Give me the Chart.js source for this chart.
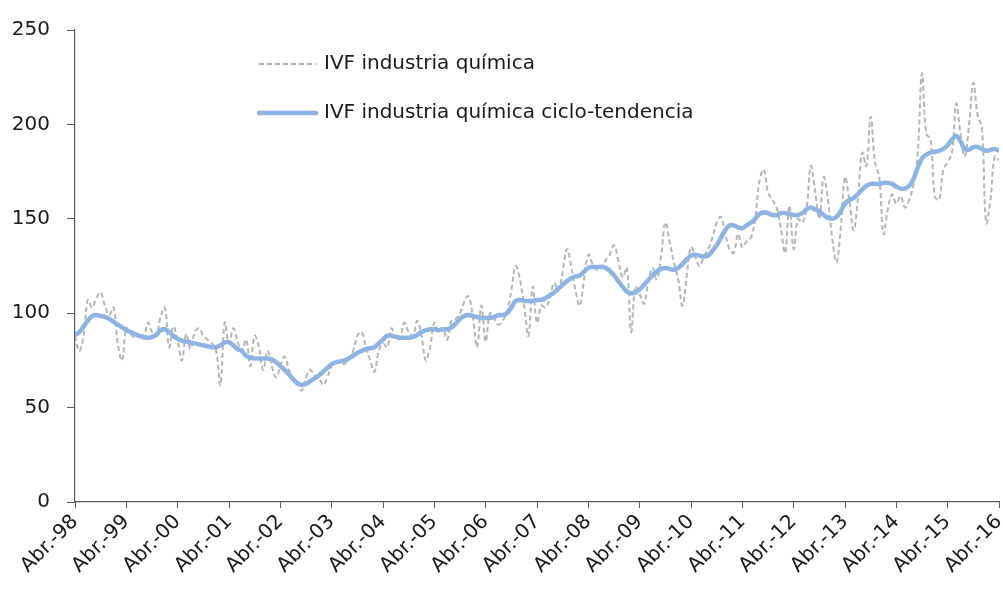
<!DOCTYPE html>
<html>
<head>
<meta charset="utf-8">
<script src="https://cdn.jsdelivr.net/npm/chart.js@4"></script>
<style>
  html, body { margin: 0; padding: 0; background: #fff; }
  #wrap { width: 1003px; height: 590px; position: relative; }
</style>
</head>
<body>
<div id="wrap"><canvas id="myChart"></canvas></div>
<script>
// tick labels, one per April (every 12 months)
const yearLabels = ["Abr.-98", "Abr.-99", "Abr.-00", "Abr.-01", "Abr.-02", "Abr.-03", "Abr.-04",
  "Abr.-05", "Abr.-06", "Abr.-07", "Abr.-08", "Abr.-09", "Abr.-10", "Abr.-11", "Abr.-12",
  "Abr.-13", "Abr.-14", "Abr.-15", "Abr.-16"];

const seriesNames = ["IVF industria química", "IVF industria química ciclo-tendencia"];

// monthly index, Apr-98 .. Apr-16 (one row per year, starting in April)
const ivf = [
  88, 80, 88, 107, 103, 108, 111, 104, 99, 103, 84, 75,
  92, 89, 87, 88, 86, 95, 90, 88, 98, 103, 82, 93,
  85, 75, 89, 81, 90, 92, 88, 86, 84, 80, 62, 95,
  84, 92, 85, 80, 86, 72, 88, 82, 70, 80, 72, 66,
  72, 77, 70, 64, 62, 59, 66, 70, 67, 66, 62, 66,
  72, 74, 74, 73, 76, 80, 88, 90, 82, 75, 69, 80,
  84, 82, 92, 86, 87, 95, 90, 88, 96, 88, 75, 82,
  95, 90, 92, 86, 96, 97, 100, 106, 109, 98, 82, 104,
  85, 100, 97, 94, 96, 101, 112, 125, 118, 104, 88, 114,
  95, 104, 103, 108, 116, 112, 122, 134, 125, 112, 104, 118,
  131, 126, 123, 124, 128, 131, 136, 128, 119, 124, 90, 114,
  110, 105, 116, 124, 118, 130, 148, 138, 127, 118, 104, 120,
  135, 130, 125, 130, 134, 140, 148, 151, 142, 134, 132, 142,
  135, 138, 140, 150, 170, 176, 164, 160, 156, 145, 132, 157,
  134, 150, 148, 155, 178, 165, 150, 172, 160, 140, 127, 145,
  172, 160, 144, 160, 185, 178, 204, 180, 172, 142, 155, 163,
  158, 162, 156, 160, 168, 185, 227, 195, 192, 162, 160, 176,
  180, 185, 211, 195, 183, 200, 222, 205, 198, 148, 160, 183,
  181
];

const ivfTrend = [
  88.5, 90, 93, 96, 98.5, 99, 98.5, 98, 97, 95.5, 94, 92.5,
  91, 90, 89, 88, 87.5, 87, 87.5, 88.5, 91, 91.5, 90, 88,
  86.5, 85.5, 85, 84.5, 84, 83.5, 83, 82.5, 82, 82, 83, 84.5,
  84.5, 83, 81, 80, 77.5, 76.5, 76, 76, 76, 76, 75.5, 74,
  72, 70, 67.5, 65, 63, 62, 62.5, 64, 65.5, 67, 69, 71,
  73, 74, 74.5, 75, 76, 77.5, 79, 80, 81, 81.5, 82, 84,
  86, 88, 88, 87.5, 87, 87, 87, 87.5, 88.5, 90, 91, 91.5,
  91.5, 91, 91.5, 91.5, 92.5, 94.5, 97, 98.5, 99, 98.5, 98, 97.5,
  97.5, 97.5, 98, 99, 99, 100, 103, 106.5, 107, 106.5, 106.5, 106.5,
  107, 107, 108, 109.5, 111, 113, 115, 117, 118.5, 119.5, 120, 122,
  124, 124.5, 124.5, 124.5, 124, 122.5, 120, 117, 114, 111.5, 110.5, 111,
  112.5, 115, 117.5, 120, 122, 123.5, 124, 123.5, 123, 124, 126, 128.5,
  130.5, 131, 130.5, 130, 130.5, 133, 136, 140, 144, 146.5, 146.5, 145.5,
  145, 146.5, 148, 150, 152.5, 153.5, 153, 152, 152, 153, 153, 152.5,
  152, 152, 153, 155, 156, 155, 154, 152, 150.5, 150, 151, 154,
  158, 160, 161, 163, 165.5, 167.5, 168.5, 168.5, 168.5, 169, 169, 168.5,
  167, 166, 166, 167.5, 171, 177, 182, 184, 185, 185.5, 186, 187,
  189, 192, 194, 191, 187, 186.5, 188, 188, 187, 186, 186.5, 187,
  186
];

const FONT = "'DejaVu Sans', sans-serif";
const AXIS = "#595959";

// legend drawn inside the plot, two rows stacked
const insideLegend = {
  id: "insideLegend",
  afterDraw(chart) {
    const ctx = chart.ctx;
    const rowsY = [64, 113];
    ctx.save();
    chart.data.datasets.forEach((ds, i) => {
      const y = rowsY[i];
      ctx.beginPath();
      ctx.strokeStyle = ds.borderColor;
      ctx.lineWidth = ds.borderWidth;
      ctx.lineCap = i === 1 ? "round" : "butt";
      ctx.setLineDash(ds.borderDash || []);
      ctx.moveTo(259, y);
      ctx.lineTo(316, y);
      ctx.stroke();
      ctx.setLineDash([]);
      ctx.fillStyle = "#1a1a1a";
      ctx.font = "20px " + FONT;
      ctx.textBaseline = "middle";
      ctx.textAlign = "left";
      ctx.fillText(ds.label, 324, y);
    });
    ctx.restore();
  }
};

const ctx = document.getElementById("myChart").getContext("2d");
new Chart(ctx, {
  type: "line",
  data: {
    datasets: [
      {
        label: seriesNames[0],
        data: ivf.map((v, i) => ({ x: i, y: v })),
        borderColor: "#B5B5B5",
        borderWidth: 2,
        borderDash: [5, 3],
        pointRadius: 0,
        tension: 0.4,
        order: 2
      },
      {
        label: seriesNames[1],
        data: ivfTrend.map((v, i) => ({ x: i, y: v })),
        borderColor: "#8DB4E2",
        borderWidth: 4.5,
        pointRadius: 0,
        tension: 0.4,
        order: 1
      }
    ]
  },
  options: {
    responsive: true,
    maintainAspectRatio: false,
    animation: false,
    layout: { padding: { top: 30, right: 4, left: 0, bottom: 0 } },
    plugins: {
      legend: { display: false },
      tooltip: { enabled: false }
    },
    scales: {
      x: {
        type: "linear",
        min: 0,
        max: (yearLabels.length - 1) * 12,
        afterFit: (scale) => {
          scale.height = 88;
          scale.paddingRight = 0;
          scale.paddingLeft = 0;
        },
        grid: { drawOnChartArea: false, drawTicks: true, tickLength: 6, color: AXIS },
        border: { display: true, color: AXIS, width: 1.2 },
        ticks: {
          stepSize: 12,
          autoSkip: false,
          maxRotation: 45,
          minRotation: 45,
          padding: 2,
          color: "#1a1a1a",
          font: { family: FONT, size: 20 },
          callback: (v) => yearLabels[v / 12]
        }
      },
      y: {
        min: 0,
        max: 250,
        afterFit: (scale) => { scale.width = 75; },
        grid: { drawOnChartArea: false, drawTicks: true, tickLength: 8, color: AXIS },
        border: { display: true, color: AXIS, width: 1.2 },
        ticks: {
          stepSize: 50,
          padding: 17,
          color: "#1a1a1a",
          font: { family: FONT, size: 20 }
        }
      }
    }
  },
  plugins: [insideLegend]
});
</script>
</body>
</html>
